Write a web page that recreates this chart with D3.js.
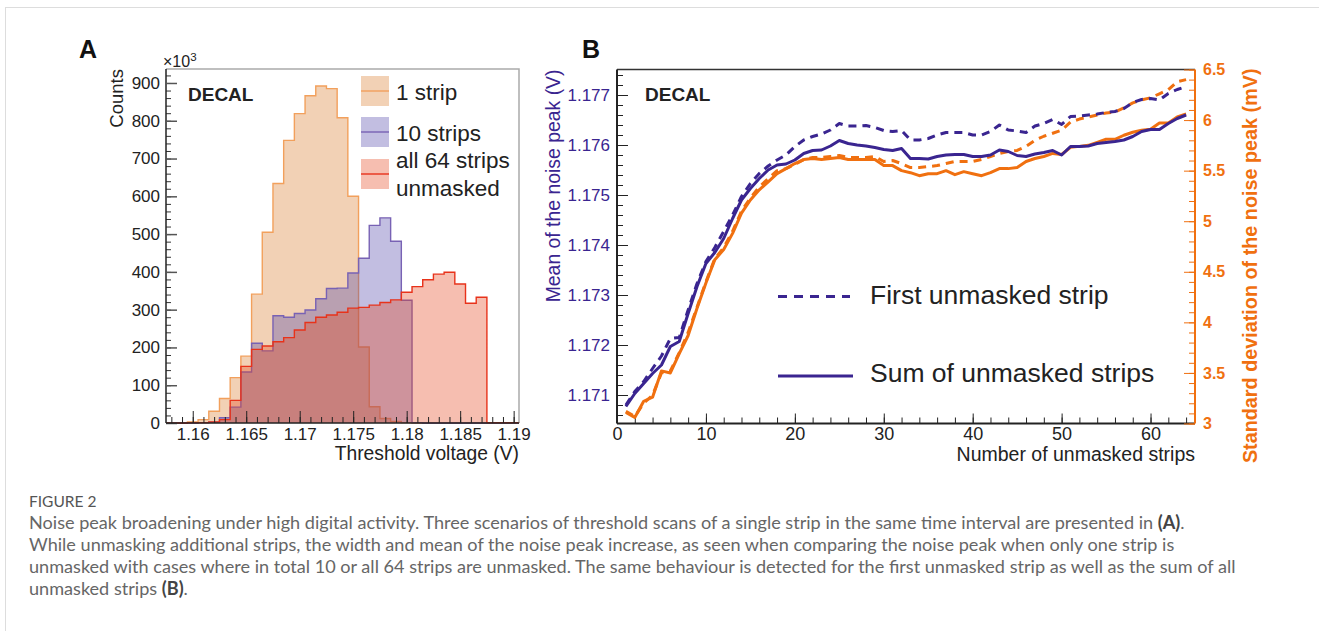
<!DOCTYPE html>
<html>
<head>
<meta charset="utf-8">
<script src="https://cdn.jsdelivr.net/npm/d3@7"></script>
<style>
  body { margin: 0; background: #fff; }
  svg text { font-family: "Liberation Sans", Arial, sans-serif; }
  svg text.caption { font-family: Lato, "Open Sans", sans-serif; }
</style>
</head>
<body>
<svg id="fig" width="1319" height="631"></svg>
<script>
// ---------- panel A : threshold scan histograms (counts in units of 10^3) ----------
const binCenters = [1.158, 1.159, 1.160, 1.161, 1.162, 1.163, 1.164, 1.165, 1.166, 1.167, 1.168,
  1.169, 1.170, 1.171, 1.172, 1.173, 1.174, 1.175, 1.176, 1.177, 1.178, 1.179, 1.180,
  1.181, 1.182, 1.183, 1.184, 1.185, 1.186, 1.187, 1.188, 1.189, 1.190];
const countsOneStrip = [0, 0, 3, 9, 31, 65, 120, 177, 341, 505, 634, 748, 819, 866, 892, 885, 808,
  600, 201, 43, 12, 4, 1, 0, 0, 0, 0, 0, 0, 0, 0, 0, 0];
const countsTenStrips = [0, 0, 0, 1, 2, 14, 42, 135, 211, 191, 284, 280, 290, 299, 329, 356, 357,
  397, 436, 523, 543, 481, 325, 1, 0, 0, 0, 0, 0, 0, 0, 0, 0];
const countsAllStrips = [0, 0, 1, 1, 3, 9, 60, 150, 195, 204, 215, 226, 246, 266, 280, 286, 293,
  304, 306, 312, 319, 326, 346, 361, 379, 394, 399, 368, 317, 333, 1, 1, 1];
const histTicksX = [1.16, 1.165, 1.17, 1.175, 1.18, 1.185, 1.19];
const histTicksY = [0, 100, 200, 300, 400, 500, 600, 700, 800, 900];
const histLegend = ["1 strip", "10 strips", "all 64 strips"];

// ---------- panel B : noise peak vs number of unmasked strips ----------
const nStrips = [1, 2, 3, 4, 5, 6, 7, 8, 9, 10, 11, 12, 13, 14, 15, 16, 17, 18, 19, 20, 21, 22,
  23, 24, 25, 26, 27, 28, 29, 30, 31, 32, 33, 34, 35, 36, 37, 38, 39, 40, 41, 42, 43, 44,
  45, 46, 47, 48, 49, 50, 51, 52, 53, 54, 55, 56, 57, 58, 59, 60, 61, 62, 63, 64];
const meanFirst = [1.17080, 1.17107, 1.17127, 1.17153, 1.17178, 1.17213, 1.17215, 1.17270,
  1.17323, 1.17367, 1.17395, 1.17427, 1.17460, 1.17497, 1.17523, 1.17543, 1.17558, 1.17570,
  1.17580, 1.17597, 1.17610, 1.17617, 1.17622, 1.17630, 1.17643, 1.17638, 1.17638, 1.17639,
  1.17635, 1.17629, 1.17627, 1.17629, 1.17610, 1.17610, 1.17613, 1.17620, 1.17625, 1.17625,
  1.17625, 1.17620, 1.17620, 1.17627, 1.17640, 1.17630, 1.17628, 1.17625, 1.17638, 1.17643,
  1.17651, 1.17641, 1.17657, 1.17658, 1.17660, 1.17662, 1.17665, 1.17667, 1.17673, 1.17685,
  1.17691, 1.17693, 1.17690, 1.17703, 1.17711, 1.17717];
const meanSum = [1.17077, 1.17103, 1.17123, 1.17143, 1.17160, 1.17197, 1.17207, 1.17263,
  1.17317, 1.17363, 1.17385, 1.17413, 1.17453, 1.17490, 1.17513, 1.17533, 1.17550, 1.17560,
  1.17562, 1.17570, 1.17583, 1.17589, 1.17590, 1.17598, 1.17609, 1.17603, 1.17600, 1.17598,
  1.17595, 1.17591, 1.17589, 1.17593, 1.17573, 1.17573, 1.17572, 1.17577, 1.17580, 1.17581,
  1.17581, 1.17577, 1.17577, 1.17580, 1.17590, 1.17587, 1.17579, 1.17577, 1.17582, 1.17585,
  1.17589, 1.17580, 1.17597, 1.17597, 1.17598, 1.17603, 1.17605, 1.17607, 1.17610, 1.17617,
  1.17627, 1.17631, 1.17631, 1.17643, 1.17653, 1.17660];
const sigmaFirst = [3.12, 3.07, 3.20, 3.28, 3.50, 3.52, 3.70, 3.90, 4.15, 4.40, 4.63, 4.74,
  4.90, 5.10, 5.23, 5.34, 5.42, 5.50, 5.52, 5.56, 5.61, 5.63, 5.63, 5.64, 5.65, 5.63, 5.63,
  5.63, 5.64, 5.59, 5.60, 5.57, 5.53, 5.53, 5.54, 5.55, 5.57, 5.59, 5.59, 5.59, 5.61, 5.64,
  5.67, 5.69, 5.70, 5.74, 5.80, 5.84, 5.87, 5.90, 5.98, 6.01, 6.03, 6.05, 6.07, 6.08, 6.12,
  6.17, 6.20, 6.22, 6.26, 6.30, 6.38, 6.40];
const sigmaSum = [3.11, 3.06, 3.22, 3.26, 3.52, 3.50, 3.69, 3.87, 4.14, 4.39, 4.62, 4.72,
  4.88, 5.08, 5.21, 5.31, 5.39, 5.47, 5.52, 5.57, 5.61, 5.62, 5.61, 5.62, 5.63, 5.61, 5.61,
  5.61, 5.61, 5.55, 5.55, 5.50, 5.48, 5.45, 5.47, 5.47, 5.50, 5.46, 5.49, 5.47, 5.45, 5.48,
  5.52, 5.52, 5.53, 5.59, 5.62, 5.64, 5.67, 5.66, 5.73, 5.74, 5.75, 5.78, 5.81, 5.81, 5.85,
  5.88, 5.90, 5.91, 5.97, 5.97, 6.03, 6.06];
const linesTicksX = [0, 10, 20, 30, 40, 50, 60];
const meanTicks = [1.171, 1.172, 1.173, 1.174, 1.175, 1.176, 1.177];
const sigmaTicks = [3, 3.5, 4, 4.5, 5, 5.5, 6, 6.5];
const linesLegend = ["First unmasked strip", "Sum of unmasked strips"];

const captionLines = [
  [["Noise peak broadening under high digital activity. Three scenarios of threshold scans of a single strip in the same time interval are presented in ", false], ["(A)", true], [".", false]],
  [["While unmasking additional strips, the width and mean of the noise peak increase, as seen when comparing the noise peak when only one strip is", false]],
  [["unmasked with cases where in total 10 or all 64 strips are unmasked. The same behaviour is detected for the first unmasked strip as well as the sum of all", false]],
  [["unmasked strips ", false], ["(B)", true], [".", false]]
];

const purple = "#3a2590";
const orange = "#f07010";

const svg = d3.select("#fig");

// card border
svg.append("line").attr("x1", 5).attr("x2", 1319).attr("y1", 7.5).attr("y2", 7.5)
  .attr("stroke", "#ddd");
svg.append("line").attr("x1", 5.5).attr("x2", 5.5).attr("y1", 7).attr("y2", 631)
  .attr("stroke", "#ddd");

// ================= panel A =================
const A = {left: 166, right: 519, top: 69, bottom: 423};
const xA = d3.scaleLinear().domain([1.1575, 1.1905]).range([A.left, A.right]);
const yA = d3.scaleLinear().domain([0, 937]).range([A.bottom, A.top]);

const gA = svg.append("g");

const histSeries = [
  {counts: countsOneStrip, fill: "rgba(222,140,70,0.4)", stroke: "#f2a05c"},
  {counts: countsTenStrips, fill: "rgba(80,70,170,0.35)", stroke: "#7862b4"},
  {counts: countsAllStrips, fill: "rgba(230,70,30,0.35)", stroke: "#e8321a"}
];

function stepPoints(counts){
  let pts = [];
  binCenters.forEach(function(c, i){
    pts.push([c - 0.0005, counts[i]]);
    pts.push([c + 0.0005, counts[i]]);
  });
  return pts;
}

const histArea = d3.area()
  .x(d => xA(d[0])).y0(yA(0)).y1(d => yA(d[1]));
const histLine = d3.line()
  .x(d => xA(d[0])).y(d => yA(d[1]));

histSeries.forEach(function(s){
  const pts = stepPoints(s.counts);
  gA.append("path").attr("d", histArea(pts)).attr("fill", s.fill);
  const outline = [[pts[0][0], 0]].concat(pts, [[pts[pts.length - 1][0], 0]]);
  gA.append("path").attr("d", histLine(outline)).attr("fill", "none")
    .attr("stroke", s.stroke).attr("stroke-width", 1.4);
});

// frame
gA.append("path")
  .attr("d", `M${A.left},${A.top}H${A.right}V${A.bottom}`)
  .attr("fill", "none").attr("stroke", "#aaa").attr("stroke-width", 1.5);

// y axis
gA.append("g").attr("transform", `translate(${A.left},0)`)
  .call(d3.axisLeft(yA).tickValues(d3.range(0, 937, 20)).tickSize(-5).tickFormat(""))
  .call(g => g.select(".domain").remove())
  .selectAll("line").attr("stroke", "#333");
gA.append("g").attr("transform", `translate(${A.left},0)`)
  .call(d3.axisLeft(yA).tickValues(histTicksY).tickSize(-11).tickPadding(6).tickFormat(d3.format("d")))
  .call(g => g.select(".domain").attr("stroke", "#222").attr("stroke-width", 1.5)
    .attr("d", `M0,${A.bottom}V${A.top}`))
  .call(g => g.selectAll("text").attr("font-size", 17).attr("fill", "#222"))
  .selectAll("line").attr("stroke", "#555").attr("stroke-width", 1.5);

// x axis
gA.append("g").attr("transform", `translate(0,${A.bottom})`)
  .call(d3.axisBottom(xA).tickValues(d3.range(1.158, 1.1905, 0.001)).tickSize(-6).tickFormat(""))
  .call(g => g.select(".domain").remove())
  .selectAll("line").attr("stroke", "#222");
gA.append("g").attr("transform", `translate(0,${A.bottom})`)
  .call(d3.axisBottom(xA).tickValues(histTicksX).tickSize(-12).tickPadding(5).tickFormat(d3.format("")))
  .call(g => g.select(".domain").attr("stroke", "#222").attr("stroke-width", 1.5)
    .attr("d", `M${A.left},0H${A.right}`))
  .call(g => g.selectAll("text").attr("font-size", 17).attr("fill", "#222"))
  .selectAll("line").attr("stroke", "#222");

gA.append("text").attr("x", A.right).attr("y", 460).attr("text-anchor", "end")
  .attr("font-size", 19.3).attr("fill", "#222").text("Threshold voltage (V)");
gA.append("text").attr("transform", `translate(123,${A.top}) rotate(-90)`)
  .attr("text-anchor", "end").attr("font-size", 18.5).attr("fill", "#222").text("Counts");
const mult = gA.append("text").attr("x", 163).attr("y", 67).attr("font-size", 16).attr("fill", "#222");
mult.append("tspan").text("\u00d710");
mult.append("tspan").attr("dy", -6).attr("font-size", 11.5).text("3");

gA.append("text").attr("x", 188).attr("y", 101).attr("font-size", 19).attr("font-weight", "bold")
  .attr("fill", "#222").text("DECAL");
svg.append("text").attr("x", 79).attr("y", 58).attr("font-size", 25).attr("font-weight", "bold")
  .attr("fill", "#111").text("A");

// legend A
const legA = [
  {y: 76, text: [histLegend[0]], base: [100]},
  {y: 117, text: [histLegend[1]], base: [141]},
  {y: 159, text: [histLegend[2], "unmasked"], base: [168, 196]}
];
legA.forEach(function(l, i){
  const s = histSeries[i];
  gA.append("rect").attr("x", 361).attr("y", l.y).attr("width", 28).attr("height", 30)
    .attr("fill", s.fill);
  gA.append("line").attr("x1", 361).attr("x2", 389).attr("y1", l.y + 15).attr("y2", l.y + 15)
    .attr("stroke", s.stroke).attr("stroke-width", 1.4);
  l.text.forEach(function(t, j){
    gA.append("text").attr("x", 396).attr("y", l.base[j]).attr("font-size", 22.5)
      .attr("fill", "#222").text(t);
  });
});

// ================= panel B =================
const B = {left: 617, right: 1195, top: 69.5, bottom: 423.5};
const xB = d3.scaleLinear().domain([0, 65]).range([B.left, B.right]);
const yMean = d3.scaleLinear().domain([1.17043, 1.17751]).range([B.bottom, B.top]);
const ySigma = d3.scaleLinear().domain([3, 6.5]).range([B.bottom, B.top]);

const gB = svg.append("g");

// top frame
gB.append("line").attr("x1", B.left).attr("x2", B.right).attr("y1", B.top).attr("y2", B.top)
  .attr("stroke", "#333").attr("stroke-width", 1.5);

// bottom axis
gB.append("g").attr("transform", `translate(0,${B.bottom})`)
  .call(d3.axisBottom(xB).tickValues(d3.range(0, 65, 2)).tickSize(-6).tickFormat(""))
  .call(g => g.select(".domain").remove())
  .selectAll("line").attr("stroke", "#222");
gB.append("g").attr("transform", `translate(0,${B.bottom})`)
  .call(d3.axisBottom(xB).tickValues(linesTicksX).tickSize(-10).tickPadding(4))
  .call(g => g.select(".domain").attr("stroke", "#222").attr("stroke-width", 2)
    .attr("d", `M${B.left},0H${B.right}`))
  .call(g => g.selectAll("text").attr("font-size", 18).attr("fill", "#222"))
  .selectAll("line").attr("stroke", "#222");
gB.append("text").attr("x", B.right).attr("y", 461).attr("text-anchor", "end")
  .attr("font-size", 19.5).attr("fill", "#222").text("Number of unmasked strips");

// left axis (mean)
gB.append("g").attr("transform", `translate(${B.left},0)`)
  .call(d3.axisLeft(yMean).tickValues(d3.range(1.1706, 1.1775, 0.0002)).tickSize(-6).tickFormat(""))
  .call(g => g.select(".domain").remove())
  .selectAll("line").attr("stroke", "#222");
gB.append("g").attr("transform", `translate(${B.left},0)`)
  .call(d3.axisLeft(yMean).tickValues(meanTicks).tickSize(-11).tickPadding(7).tickFormat(d3.format(".3f")))
  .call(g => g.select(".domain").attr("stroke", "#222").attr("stroke-width", 2)
    .attr("d", `M0,${B.bottom}V${B.top}`))
  .call(g => g.selectAll("text").attr("font-size", 17).attr("fill", purple))
  .selectAll("line").attr("stroke", "#222");
gB.append("text").attr("transform", `translate(560,${B.top}) rotate(-90)`)
  .attr("text-anchor", "end").attr("font-size", 19.4).attr("fill", purple)
  .text("Mean of the noise peak (V)");

// right axis (sigma)
gB.append("g").attr("transform", `translate(${B.right},0)`)
  .call(d3.axisRight(ySigma).tickValues(d3.range(3, 6.55, 0.1)).tickSize(-6).tickFormat(""))
  .call(g => g.select(".domain").remove())
  .selectAll("line").attr("stroke", orange);
gB.append("g").attr("transform", `translate(${B.right},0)`)
  .call(d3.axisRight(ySigma).tickValues(sigmaTicks).tickSize(-11).tickPadding(8).tickFormat(d3.format("")))
  .call(g => g.select(".domain").attr("stroke", orange).attr("stroke-width", 2)
    .attr("d", `M0,${B.bottom}V${B.top}`))
  .call(g => g.selectAll("text").attr("font-size", 16).attr("font-weight", "bold").attr("fill", orange))
  .selectAll("line").attr("stroke", orange);
gB.append("text").attr("transform", `translate(1257,${B.top - 1}) rotate(-90)`)
  .attr("text-anchor", "end").attr("font-size", 19.8).attr("font-weight", "bold").attr("fill", orange)
  .text("Standard deviation of the noise peak (mV)");

// lines
const meanLine = d3.line().x((d, i) => xB(nStrips[i])).y(d => yMean(d));
const sigmaLine = d3.line().x((d, i) => xB(nStrips[i])).y(d => ySigma(d));
const lineSeries = [
  {d: sigmaFirst, gen: sigmaLine, color: orange, dash: "8,6"},
  {d: sigmaSum, gen: sigmaLine, color: orange, dash: null},
  {d: meanFirst, gen: meanLine, color: purple, dash: "8,6"},
  {d: meanSum, gen: meanLine, color: purple, dash: null}
];
lineSeries.forEach(function(s){
  gB.append("path").attr("d", s.gen(s.d)).attr("fill", "none")
    .attr("stroke", s.color).attr("stroke-width", 3)
    .attr("stroke-dasharray", s.dash).attr("stroke-linejoin", "round");
});

gB.append("text").attr("x", 645).attr("y", 101).attr("font-size", 19).attr("font-weight", "bold")
  .attr("fill", "#222").text("DECAL");
svg.append("text").attr("x", 582).attr("y", 58).attr("font-size", 25).attr("font-weight", "bold")
  .attr("fill", "#111").text("B");

// legend B
gB.append("line").attr("x1", 778).attr("x2", 850).attr("y1", 296.5).attr("y2", 296.5)
  .attr("stroke", purple).attr("stroke-width", 3).attr("stroke-dasharray", "9,7");
gB.append("line").attr("x1", 778).attr("x2", 853).attr("y1", 376).attr("y2", 376)
  .attr("stroke", purple).attr("stroke-width", 3);
gB.append("text").attr("x", 870).attr("y", 304).attr("font-size", 26.5).attr("fill", "#222").text(linesLegend[0]);
gB.append("text").attr("x", 870).attr("y", 382).attr("font-size", 26.5).attr("fill", "#222").text(linesLegend[1]);

// ================= caption =================
svg.append("text").attr("class", "caption").attr("x", 29).attr("y", 507)
  .attr("font-size", 15.5).attr("fill", "#555").text("FIGURE 2");
captionLines.forEach(function(parts, i){
  const t = svg.append("text").attr("class", "caption").attr("x", 29).attr("y", 529 + i * 22)
    .attr("font-size", 18.1).attr("fill", "#666");
  parts.forEach(function(p){
    t.append("tspan").attr("font-weight", p[1] ? "bold" : null).attr("fill", p[1] ? "#444" : null).text(p[0]);
  });
});
</script>
</body>
</html>
